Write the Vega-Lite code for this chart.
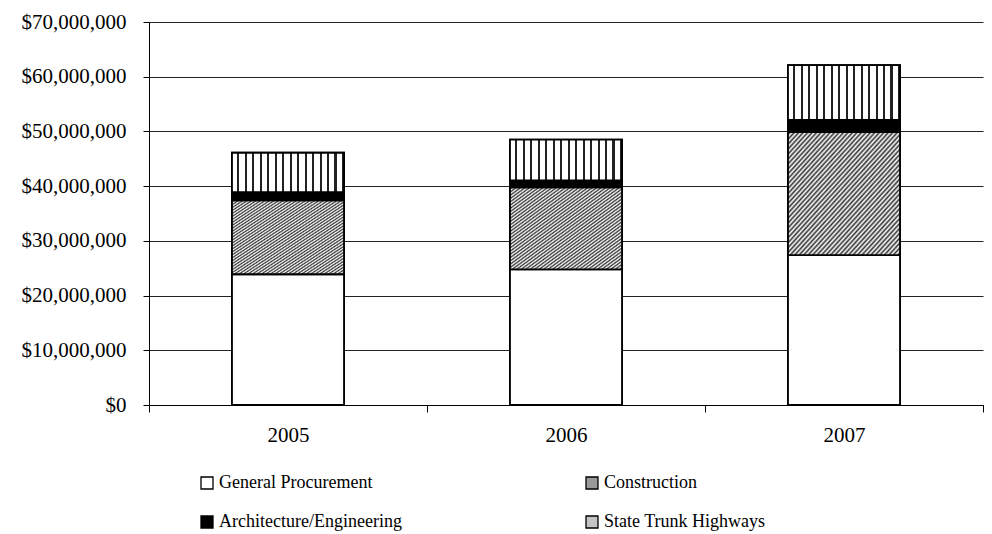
{
  "$schema": "https://vega.github.io/schema/vega-lite/v6.json",
  "width": 834,
  "height": 383,
  "autosize": {"type": "none"},
  "padding": {"left": 149, "top": 22, "right": 9, "bottom": 129},
  "background": "white",
  "config": {
    "view": {"stroke": null},
    "font": "Liberation Serif",
    "axis": {"labelFont": "Liberation Serif", "labelColor": "#000", "domainColor": "#000", "tickColor": "#000"}
  },
  "data": {
    "values": [
      {"year": "2005", "category": "General Procurement", "amount": 23900000},
      {"year": "2005", "category": "Construction", "amount": 13500000},
      {"year": "2005", "category": "Architecture/Engineering", "amount": 1500000},
      {"year": "2005", "category": "State Trunk Highways", "amount": 7200000},
      {"year": "2006", "category": "General Procurement", "amount": 24800000},
      {"year": "2006", "category": "Construction", "amount": 15000000},
      {"year": "2006", "category": "Architecture/Engineering", "amount": 1250000},
      {"year": "2006", "category": "State Trunk Highways", "amount": 7450000},
      {"year": "2007", "category": "General Procurement", "amount": 27400000},
      {"year": "2007", "category": "Construction", "amount": 22500000},
      {"year": "2007", "category": "Architecture/Engineering", "amount": 2200000},
      {"year": "2007", "category": "State Trunk Highways", "amount": 10000000}
    ]
  },
  "transform": [
    {"calculate": "indexof(['General Procurement','Construction','Architecture/Engineering','State Trunk Highways'], datum.category)", "as": "stackOrder"}
  ],
  "encoding": {
    "x": {
      "field": "year", "type": "nominal", "title": null,
      "scale": {"paddingInner": 0, "paddingOuter": 0},
      "axis": {"labelAngle": 0, "labelFontSize": 21, "tickBand": "extent", "tickSize": 7, "labelPadding": 12, "domainWidth": 1, "grid": false}
    },
    "y": {
      "field": "amount", "type": "quantitative", "title": null, "stack": "zero",
      "scale": {"domain": [0, 70000000], "nice": false},
      "axis": {"values": [0, 10000000, 20000000, 30000000, 40000000, 50000000, 60000000, 70000000], "format": "$,.0f", "labelFontSize": 21, "tickSize": 6, "labelPadding": 17, "gridColor": "#222", "gridWidth": 1, "grid": true}
    },
    "order": {"field": "stackOrder", "type": "quantitative", "sort": "ascending"}
  },
  "layer": [
    {
      "mark": {"type": "bar", "width": {"band": 0.403}, "stroke": "#000", "strokeWidth": 1.8},
      "encoding": {
        "fill": {
          "field": "category", "type": "nominal",
          "sort": ["General Procurement", "Construction", "Architecture/Engineering", "State Trunk Highways"],
          "scale": {
            "domain": ["General Procurement", "Construction", "Architecture/Engineering", "State Trunk Highways"],
            "range": ["#ffffff", "#9a9a9a", "#000000", "#c4c4c4"]
          },
          "legend": {
            "title": null, "orient": "none", "legendX": 49, "legendY": 452,
            "direction": "horizontal", "columns": 2, "columnPadding": 181, "rowPadding": 21,
            "symbolType": "square", "symbolSize": 144, "symbolStrokeColor": "#000", "symbolStrokeWidth": 1.3,
            "labelFont": "Liberation Serif", "labelFontSize": 18, "labelColor": "#000", "labelOffset": 3, "labelLimit": 400
          }
        }
      }
    },
    {
      "mark": {"type": "bar", "width": {"band": 0.403}, "stroke": "#000", "strokeWidth": 1.8},
      "encoding": {
        "fill": {
          "condition": [
            {"test": "datum.category === 'Construction'", "value": {"gradient": "linear", "x1": 0, "y1": 0, "x2": 1, "y2": 1, "stops": [
              {"offset": 0.00, "color": "#ffffff"}, {"offset": 0.01, "color": "#333333"}, {"offset": 0.02, "color": "#ffffff"}, {"offset": 0.03, "color": "#333333"}, {"offset": 0.04, "color": "#ffffff"}, {"offset": 0.05, "color": "#333333"}, {"offset": 0.06, "color": "#ffffff"}, {"offset": 0.07, "color": "#333333"}, {"offset": 0.08, "color": "#ffffff"}, {"offset": 0.09, "color": "#333333"},
              {"offset": 0.10, "color": "#ffffff"}, {"offset": 0.11, "color": "#333333"}, {"offset": 0.12, "color": "#ffffff"}, {"offset": 0.13, "color": "#333333"}, {"offset": 0.14, "color": "#ffffff"}, {"offset": 0.15, "color": "#333333"}, {"offset": 0.16, "color": "#ffffff"}, {"offset": 0.17, "color": "#333333"}, {"offset": 0.18, "color": "#ffffff"}, {"offset": 0.19, "color": "#333333"},
              {"offset": 0.20, "color": "#ffffff"}, {"offset": 0.21, "color": "#333333"}, {"offset": 0.22, "color": "#ffffff"}, {"offset": 0.23, "color": "#333333"}, {"offset": 0.24, "color": "#ffffff"}, {"offset": 0.25, "color": "#333333"}, {"offset": 0.26, "color": "#ffffff"}, {"offset": 0.27, "color": "#333333"}, {"offset": 0.28, "color": "#ffffff"}, {"offset": 0.29, "color": "#333333"},
              {"offset": 0.30, "color": "#ffffff"}, {"offset": 0.31, "color": "#333333"}, {"offset": 0.32, "color": "#ffffff"}, {"offset": 0.33, "color": "#333333"}, {"offset": 0.34, "color": "#ffffff"}, {"offset": 0.35, "color": "#333333"}, {"offset": 0.36, "color": "#ffffff"}, {"offset": 0.37, "color": "#333333"}, {"offset": 0.38, "color": "#ffffff"}, {"offset": 0.39, "color": "#333333"},
              {"offset": 0.40, "color": "#ffffff"}, {"offset": 0.41, "color": "#333333"}, {"offset": 0.42, "color": "#ffffff"}, {"offset": 0.43, "color": "#333333"}, {"offset": 0.44, "color": "#ffffff"}, {"offset": 0.45, "color": "#333333"}, {"offset": 0.46, "color": "#ffffff"}, {"offset": 0.47, "color": "#333333"}, {"offset": 0.48, "color": "#ffffff"}, {"offset": 0.49, "color": "#333333"},
              {"offset": 0.50, "color": "#ffffff"}, {"offset": 0.51, "color": "#333333"}, {"offset": 0.52, "color": "#ffffff"}, {"offset": 0.53, "color": "#333333"}, {"offset": 0.54, "color": "#ffffff"}, {"offset": 0.55, "color": "#333333"}, {"offset": 0.56, "color": "#ffffff"}, {"offset": 0.57, "color": "#333333"}, {"offset": 0.58, "color": "#ffffff"}, {"offset": 0.59, "color": "#333333"},
              {"offset": 0.60, "color": "#ffffff"}, {"offset": 0.61, "color": "#333333"}, {"offset": 0.62, "color": "#ffffff"}, {"offset": 0.63, "color": "#333333"}, {"offset": 0.64, "color": "#ffffff"}, {"offset": 0.65, "color": "#333333"}, {"offset": 0.66, "color": "#ffffff"}, {"offset": 0.67, "color": "#333333"}, {"offset": 0.68, "color": "#ffffff"}, {"offset": 0.69, "color": "#333333"},
              {"offset": 0.70, "color": "#ffffff"}, {"offset": 0.71, "color": "#333333"}, {"offset": 0.72, "color": "#ffffff"}, {"offset": 0.73, "color": "#333333"}, {"offset": 0.74, "color": "#ffffff"}, {"offset": 0.75, "color": "#333333"}, {"offset": 0.76, "color": "#ffffff"}, {"offset": 0.77, "color": "#333333"}, {"offset": 0.78, "color": "#ffffff"}, {"offset": 0.79, "color": "#333333"},
              {"offset": 0.80, "color": "#ffffff"}, {"offset": 0.81, "color": "#333333"}, {"offset": 0.82, "color": "#ffffff"}, {"offset": 0.83, "color": "#333333"}, {"offset": 0.84, "color": "#ffffff"}, {"offset": 0.85, "color": "#333333"}, {"offset": 0.86, "color": "#ffffff"}, {"offset": 0.87, "color": "#333333"}, {"offset": 0.88, "color": "#ffffff"}, {"offset": 0.89, "color": "#333333"},
              {"offset": 0.90, "color": "#ffffff"}, {"offset": 0.91, "color": "#333333"}, {"offset": 0.92, "color": "#ffffff"}, {"offset": 0.93, "color": "#333333"}, {"offset": 0.94, "color": "#ffffff"}, {"offset": 0.95, "color": "#333333"}, {"offset": 0.96, "color": "#ffffff"}, {"offset": 0.97, "color": "#333333"}, {"offset": 0.98, "color": "#ffffff"}, {"offset": 0.99, "color": "#333333"},
              {"offset": 1.00, "color": "#ffffff"}
            ]}},
            {"test": "datum.category === 'State Trunk Highways'", "value": {"gradient": "linear", "x1": 0, "y1": 0, "x2": 1, "y2": 0, "stops": [
              {"offset": 0, "color": "#ffffff"}, {"offset": 0.048, "color": "#ffffff"}, {"offset": 0.048, "color": "#222222"}, {"offset": 0.0667, "color": "#222222"},
              {"offset": 0.0667, "color": "#ffffff"}, {"offset": 0.1147, "color": "#ffffff"}, {"offset": 0.1147, "color": "#222222"}, {"offset": 0.1333, "color": "#222222"},
              {"offset": 0.1333, "color": "#ffffff"}, {"offset": 0.1813, "color": "#ffffff"}, {"offset": 0.1813, "color": "#222222"}, {"offset": 0.2, "color": "#222222"},
              {"offset": 0.2, "color": "#ffffff"}, {"offset": 0.248, "color": "#ffffff"}, {"offset": 0.248, "color": "#222222"}, {"offset": 0.2667, "color": "#222222"},
              {"offset": 0.2667, "color": "#ffffff"}, {"offset": 0.3147, "color": "#ffffff"}, {"offset": 0.3147, "color": "#222222"}, {"offset": 0.3333, "color": "#222222"},
              {"offset": 0.3333, "color": "#ffffff"}, {"offset": 0.3813, "color": "#ffffff"}, {"offset": 0.3813, "color": "#222222"}, {"offset": 0.4, "color": "#222222"},
              {"offset": 0.4, "color": "#ffffff"}, {"offset": 0.448, "color": "#ffffff"}, {"offset": 0.448, "color": "#222222"}, {"offset": 0.4667, "color": "#222222"},
              {"offset": 0.4667, "color": "#ffffff"}, {"offset": 0.5147, "color": "#ffffff"}, {"offset": 0.5147, "color": "#222222"}, {"offset": 0.5333, "color": "#222222"},
              {"offset": 0.5333, "color": "#ffffff"}, {"offset": 0.5813, "color": "#ffffff"}, {"offset": 0.5813, "color": "#222222"}, {"offset": 0.6, "color": "#222222"},
              {"offset": 0.6, "color": "#ffffff"}, {"offset": 0.648, "color": "#ffffff"}, {"offset": 0.648, "color": "#222222"}, {"offset": 0.6667, "color": "#222222"},
              {"offset": 0.6667, "color": "#ffffff"}, {"offset": 0.7147, "color": "#ffffff"}, {"offset": 0.7147, "color": "#222222"}, {"offset": 0.7333, "color": "#222222"},
              {"offset": 0.7333, "color": "#ffffff"}, {"offset": 0.7813, "color": "#ffffff"}, {"offset": 0.7813, "color": "#222222"}, {"offset": 0.8, "color": "#222222"},
              {"offset": 0.8, "color": "#ffffff"}, {"offset": 0.848, "color": "#ffffff"}, {"offset": 0.848, "color": "#222222"}, {"offset": 0.8667, "color": "#222222"},
              {"offset": 0.8667, "color": "#ffffff"}, {"offset": 0.9147, "color": "#ffffff"}, {"offset": 0.9147, "color": "#222222"}, {"offset": 0.9333, "color": "#222222"},
              {"offset": 0.9333, "color": "#ffffff"}, {"offset": 0.9813, "color": "#ffffff"}, {"offset": 0.9813, "color": "#222222"}, {"offset": 1, "color": "#222222"}
            ]}},
            {"test": "datum.category === 'Architecture/Engineering'", "value": "#000000"}
          ],
          "value": "#ffffff"
        }
      }
    }
  ]
}
